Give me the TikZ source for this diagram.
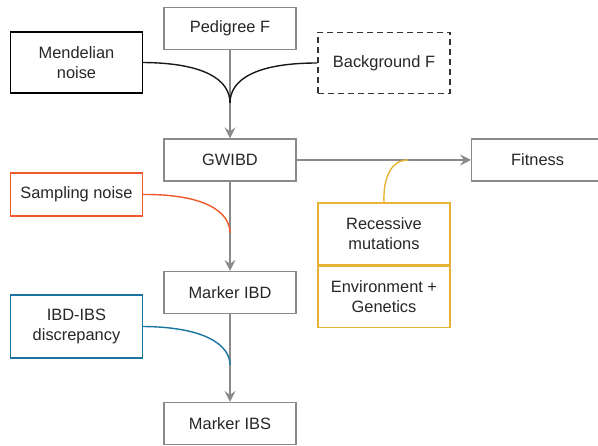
\documentclass[tikz,border=0pt]{standalone}
\usepackage{fontspec}
\setmainfont{Liberation Sans}
\usetikzlibrary{arrows.meta,positioning}

\definecolor{boxgray}{HTML}{8A8A8A}
\definecolor{noisered}{HTML}{F0582A}
\definecolor{discblue}{HTML}{1A74A0}
\definecolor{mutyellow}{HTML}{E8B234}
\definecolor{textgray}{HTML}{262626}

\tikzset{
  stage/.style={draw=boxgray, line width=1.2pt, minimum width=132pt, minimum height=42pt,
    align=center, inner sep=0pt, text=textgray},
  source/.style={stage, minimum height=61pt},
  flow/.style={draw=boxgray, line width=1.4pt, -{Stealth[length=11pt,width=11pt,inset=4pt]}},
  feed/.style={line width=1.4pt}
}

\begin{document}
\begin{tikzpicture}[x=1pt,y=-1pt,font=\fontsize{16.4}{20}\selectfont]
  \useasboundingbox (0,0) rectangle (598,446);

  % main chain down the middle
  \node[stage] (ped) at (230,28.5) {Pedigree F};
  \node[stage] (gw) at (230,160) {GWIBD};
  \node[stage] (mibd) at (230,292.5) {Marker IBD};
  \node[stage] (mibs) at (230,423.5) {Marker IBS};
  \node[stage, anchor=west] (fit) at (471,160) {Fitness};

  % noise sources on the left and right
  \node[source, draw=black] (mend) at (76.5,62.5) {Mendelian\\noise};
  \node[source, draw=black!80, dashed, dash pattern=on 6pt off 4pt] (bgf) at (384,63) {Background F};
  \node[stage, draw=noisered, minimum height=43pt] (samp) at (76.5,194.5) {Sampling noise};
  \node[source, draw=discblue, minimum height=63pt] (disc) at (76.5,326.5) {IBD-IBS\\discrepancy};

  % stacked yellow box
  \node[stage, draw=mutyellow, minimum height=62pt] (rec) at (384,234) {Recessive\\mutations};
  \node[stage, draw=mutyellow, minimum height=61pt, below=0pt of rec] (env) {Environment +\\Genetics};

  % arrows
  \draw[flow] (ped) -- (gw);
  \draw[flow] (gw) -- (mibd);
  \draw[flow] (mibd) -- (mibs);
  \draw[flow] (gw) -- (fit);

  % merge points on the arrows
  \coordinate (m1) at (230,103);
  \coordinate (m2) at (230,233);
  \coordinate (m3) at (230,365);
  \coordinate (m4) at (408,160);

  \draw[feed, black!90] (mend.east) .. controls (205,63) and (230,80) .. (m1);
  \draw[feed, black!90] (bgf.west) .. controls (255,63) and (230,80) .. (m1);
  \draw[feed, noisered] (samp.east) .. controls (205,194) and (230,212) .. (m2);
  \draw[feed, discblue] (disc.east) .. controls (205,327) and (230,345) .. (m3);
  \draw[feed, mutyellow] (rec.north) .. controls (383,180) and (390,160) .. (m4);
\end{tikzpicture}
\end{document}
